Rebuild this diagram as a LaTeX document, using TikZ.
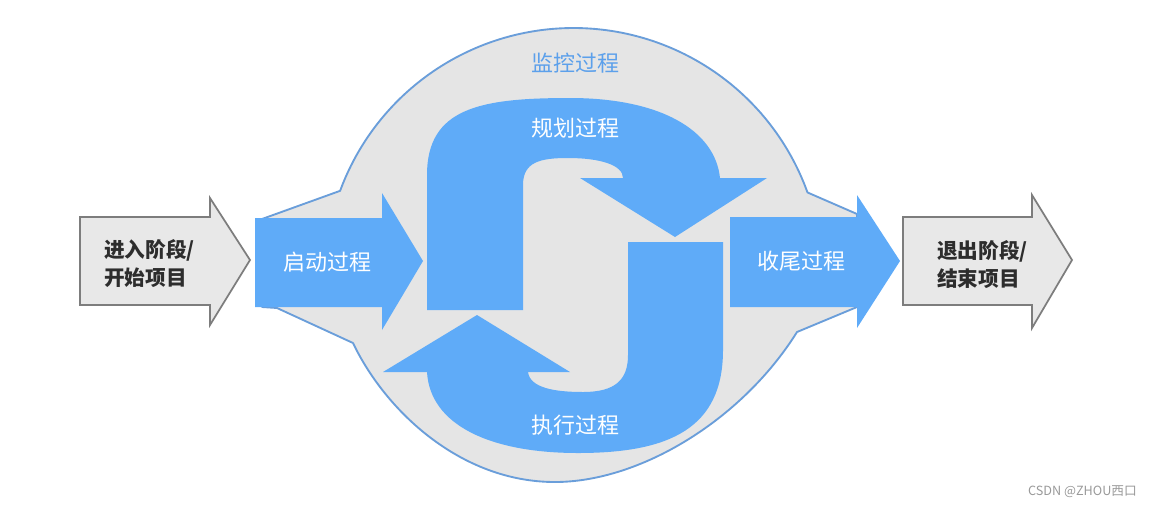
\documentclass[tikz,border=0pt]{standalone}
\usepackage{fontspec}
\setmainfont{Noto Sans CJK SC}
\definecolor{blueA}{RGB}{95,171,248}
\definecolor{monfill}{RGB}{229,229,229}
\definecolor{monline}{RGB}{106,158,218}
\definecolor{montext}{RGB}{92,160,235}
\definecolor{grayfill}{RGB}{232,232,232}
\definecolor{grayline}{RGB}{125,125,125}
\definecolor{darktext}{RGB}{45,45,45}
\tikzset{
  bluearrow/.style={fill=blueA},
  grayarrow/.style={fill=grayfill, draw=grayline, line width=1.3pt, line join=miter},
  wtext/.style={text=white, font=\fontsize{16.5}{20}\selectfont, inner sep=0pt},
  mtext/.style={text=montext, font=\fontsize{16.5}{20}\selectfont, inner sep=0pt},
  dtext/.style={text=darktext, font=\fontsize{15.5}{21}\selectfont\bfseries, align=left, inner sep=0pt, anchor=west},
}
\begin{document}
\begin{tikzpicture}[x=0.75pt,y=-0.75pt]
\useasboundingbox (0,0) rectangle (1151,508);
% monitoring background shape
\path[fill=monfill, draw=monline, line width=1.4pt, line join=round]
  (262,219) -- plot[domain=159.8:19.8, samples=80, smooth] ({573.5+248.7*cos(\x)},{276.7-248.7*sin(\x)})
  -- (857,214) -- (857,307) -- (797,332)
  .. controls (742,420) and (640,482) .. (555,482)
  .. controls (460,482) and (385,410) .. (353,343)
  -- (277,308) -- (262,307) -- cycle;
% gray entry / exit arrows
\path[grayarrow] (80,217) -- (210,217) -- (210,198) -- (250,260) -- (210,325) -- (210,305) -- (80,305) -- cycle;
\path[grayarrow] (903,217) -- (1032,217) -- (1032,195) -- (1072,260) -- (1032,328) -- (1032,305) -- (903,305) -- cycle;
% straight blue arrows
\fill[bluearrow] (255,218) -- (382,218) -- (382,193) -- (423,261) -- (382,330) -- (382,307) -- (255,307) -- cycle;
\fill[bluearrow] (730,217) -- (857,217) -- (857,195) -- (900,261) -- (857,328) -- (857,307) -- (730,307) -- cycle;
% planning arrow
\fill[bluearrow] (427,310) -- (427,175) .. controls (427,108) and (480,98) .. (570,98) .. controls (660,98) and (715,130) .. (720,178)
  -- (767,178) -- (675,237) -- (580,178) -- (623,178) .. controls (623,165) and (600,158) .. (568,158) .. controls (540,158) and (523,162) .. (523,185) -- (523,310) -- cycle;
% executing arrow
\fill[bluearrow] (628,242) -- (723,242) -- (723,350) .. controls (723,428) and (670,453) .. (578,453) .. controls (490,453) and (430,425) .. (427,372)
  -- (383,372) -- (477,315) -- (570,372) -- (528,372) .. controls (530,388) and (555,392) .. (583,392) .. controls (615,392) and (628,380) .. (628,355) -- cycle;
% texts
\node[mtext] (mon) at (575,63) {监控过程};
\node[wtext] (plan) at (575,128) {规划过程};
\node[wtext] (exec) at (575,425) {执行过程};
\node[wtext] (init) at (327,262) {启动过程};
\node[wtext] (close) at (801,261) {收尾过程};
\node[dtext] (enter) at (104,264) {进入阶段/\\开始项目};
\node[dtext] (leave) at (937,265) {退出阶段/\\结束项目};
\node[text=gray!80, font=\fontsize{9.5}{11}\selectfont, anchor=east, inner sep=0pt] (mark) at (1137,492) {CSDN @ZHOU西口};
\end{tikzpicture}
\end{document}
